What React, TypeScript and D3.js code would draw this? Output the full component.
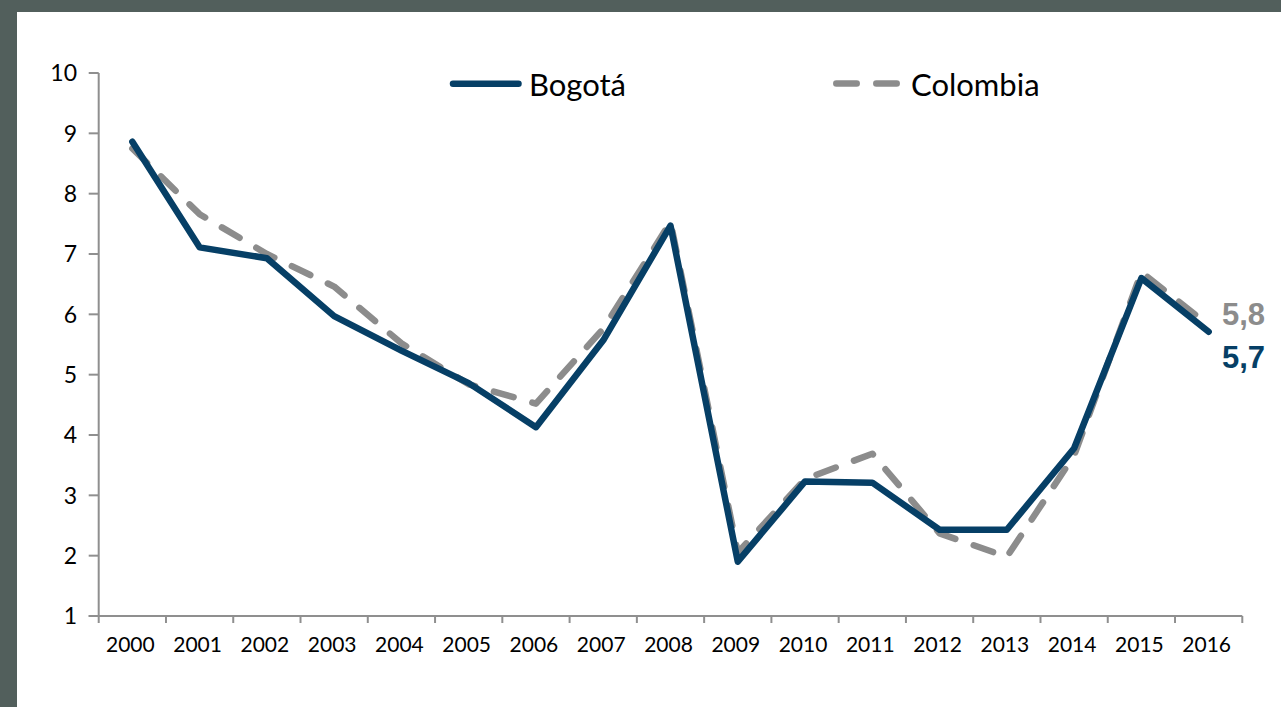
import React from "react";
import * as d3 from "d3";

const years = ["2000","2001","2002","2003","2004","2005","2006","2007","2008","2009","2010","2011","2012","2013","2014","2015","2016"];
const bogota = [8.86, 7.11, 6.93, 5.97, 5.4, 4.86, 4.13, 5.57, 7.47, 1.9, 3.23, 3.21, 2.43, 2.43, 3.78, 6.6, 5.71];
const colombia = [8.75, 7.66, 7.0, 6.46, 5.52, 4.84, 4.52, 5.76, 7.53, 2.05, 3.27, 3.69, 2.37, 1.98, 3.66, 6.7, 5.82];
const yTicks = [1, 2, 3, 4, 5, 6, 7, 8, 9, 10];
const endLabels = ["5,8", "5,7"];

const W = 1281, H = 707;
const BLUE = "#063f66";
const GRAY = "#8c8c8c";
const AXIS = "#8f8f8f";
const FONT = "Lato, 'Open Sans', sans-serif";

export default function App() {
  const x0 = 98.7, x1 = 1242.3, yTop = 73, yBot = 616;
  const x = d3.scaleBand<string>().domain(years).range([x0, x1]);
  const y = d3.scaleLinear().domain([1, 10]).range([yBot, yTop]);
  const cx = (i: number) => (x(years[i]) as number) + x.bandwidth() / 2;
  const line = d3.line<number>().x((_, i) => cx(i)).y((d) => y(d));

  const boundaries = years.map((yr) => x(yr) as number).concat([x1]);

  return (
    <svg width={W} height={H} style={{ position: "absolute", left: 0, top: 0, display: "block" }}>
      <rect x={0} y={0} width={W} height={H} fill="#ffffff" />
      <rect x={0} y={0} width={W} height={12} fill="#525f5c" />
      <rect x={0} y={0} width={17} height={H} fill="#525f5c" />

      {/* y axis */}
      <line x1={x0} x2={x0} y1={yTop} y2={yBot} stroke={AXIS} strokeWidth={2} />
      {yTicks.map((t) => (
        <g key={t}>
          <line x1={x0 - 10} x2={x0} y1={y(t)} y2={y(t)} stroke={AXIS} strokeWidth={2} />
          <text x={77} y={y(t)} dy="0.36em" textAnchor="end" fontFamily={FONT} fontSize={23} fill="#000">{t}</text>
        </g>
      ))}
      {/* x axis */}
      <line x1={x0 - 10} x2={x1} y1={yBot} y2={yBot} stroke={AXIS} strokeWidth={2} />
      {boundaries.map((b, i) => (
        <line key={i} x1={b} x2={b} y1={yBot} y2={yBot + 7} stroke={AXIS} strokeWidth={2} />
      ))}
      {years.map((yr, i) => (
        <text key={yr} x={cx(i) - 2} y={652} textAnchor="middle" fontFamily={FONT} fontSize={21} fill="#000">{yr}</text>
      ))}

      {/* series */}
      <path d={line(colombia) || ""} fill="none" stroke={GRAY} strokeWidth={6.5} strokeDasharray="20.5 19.5" strokeLinecap="round" strokeLinejoin="round" />
      <path d={line(bogota) || ""} fill="none" stroke={BLUE} strokeWidth={6.5} strokeLinecap="round" strokeLinejoin="round" />

      {/* end labels */}
      <text x={1222} y={325} fontFamily="'Liberation Sans', Arial, sans-serif" fontWeight="bold" fontSize={31} fill={GRAY}>{endLabels[0]}</text>
      <text x={1222} y={368} fontFamily="'Liberation Sans', Arial, sans-serif" fontWeight="bold" fontSize={31} fill={BLUE}>{endLabels[1]}</text>

      {/* legend */}
      <line x1={453} x2={518.5} y1={83.7} y2={83.7} stroke={BLUE} strokeWidth={6.5} strokeLinecap="round" />
      <text x={529} y={95.5} fontFamily={FONT} fontSize={31} fill="#000">Bogotá</text>
      <line x1={836.3} x2={896.7} y1={83.5} y2={83.5} stroke={GRAY} strokeWidth={6.5} strokeLinecap="round" strokeDasharray="20.4 19.6" />
      <text x={911} y={95.5} fontFamily={FONT} fontSize={31} fill="#000">Colombia</text>
    </svg>
  );
}
